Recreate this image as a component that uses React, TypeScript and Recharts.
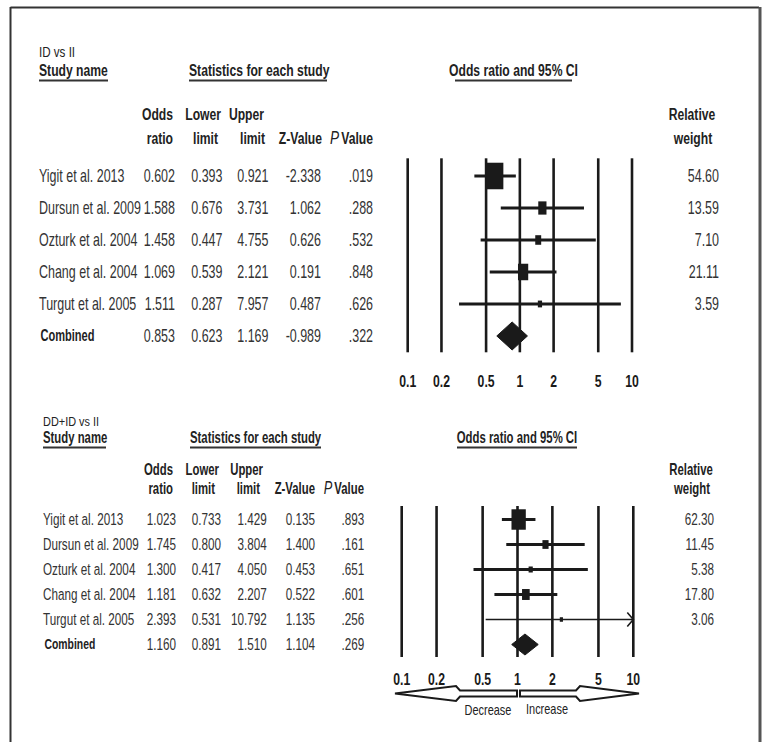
import React from "react";
import { ScatterChart, Scatter, XAxis, YAxis, ReferenceLine } from "recharts";

// ---------- data ----------
const studyNames = [
  "Yigit et al. 2013",
  "Dursun et al. 2009",
  "Ozturk et al. 2004",
  "Chang et al. 2004",
  "Turgut et al. 2005",
  "Combined",
];
const axisTicks = [0.1, 0.2, 0.5, 1, 2, 5, 10];

const p1Title = "ID vs II";
const p1Odds = [0.602, 1.588, 1.458, 1.069, 1.511, 0.853];
const p1Lower = [0.393, 0.676, 0.447, 0.539, 0.287, 0.623];
const p1Upper = [0.921, 3.731, 4.755, 2.121, 7.957, 1.169];
const p1Z = [-2.338, 1.062, 0.626, 0.191, 0.487, -0.989];
const p1P = [0.019, 0.288, 0.532, 0.848, 0.626, 0.322];
const p1Weight = [54.6, 13.59, 7.1, 21.11, 3.59];

const p2Title = "DD+ID vs II";
const p2Odds = [1.023, 1.745, 1.3, 1.181, 2.393, 1.16];
const p2Lower = [0.733, 0.8, 0.417, 0.632, 0.531, 0.891];
const p2Upper = [1.429, 3.804, 4.05, 2.207, 10.792, 1.51];
const p2Z = [0.135, 1.4, 0.453, 0.522, 1.135, 1.104];
const p2P = [0.893, 0.161, 0.651, 0.601, 0.256, 0.269];
const p2Weight = [62.3, 11.45, 5.38, 17.8, 3.06];

// ---------- style ----------
const FONT = "'Liberation Sans', Arial, sans-serif";
const INK = "#1a1a1a";
const TXT = "#333";
const AXIS_MIN = 0.1;
const AXIS_MAX = 10;

const fmt3 = (v: number) => v.toFixed(3);
const fmtP = (v: number) => v.toFixed(3).replace(/^0/, "");
const fmtW = (v: number) => v.toFixed(2);

type TProps = {
  x: number;
  y: number;
  anchor?: "start" | "middle" | "end";
  size?: number;
  bold?: boolean;
  fill?: string;
  sx?: number;
  children: React.ReactNode;
};
const T = ({ x, y, anchor = "start", size = 16, bold = false, fill = TXT, sx = 0.72, children }: TProps) => (
  <text
    transform={`translate(${x},${y}) scale(${sx},1)`}
    textAnchor={anchor}
    fontFamily={FONT}
    fontSize={size}
    fontWeight={bold ? "bold" : "normal"}
    fill={fill}
  >
    {children}
  </text>
);

const AxisTick = (props: any) => {
  const { x, y, payload } = props;
  return (
    <text
      transform={`translate(${x},${y}) scale(0.72,1)`}
      textAnchor="middle"
      dy="0.71em"
      fontFamily={FONT}
      fontSize={17}
      fontWeight="bold"
      fill={INK}
    >
      {String(payload.value)}
    </text>
  );
};

type PanelLayout = {
  title: string;
  titleY: number;
  titleSize: number;
  titleSx: number;
  headY: number;
  ulY: number;
  headSize: number;
  headSx: number;
  nameX: number;
  statsX: number;
  statsUl: [number, number];
  nameUl: [number, number];
  orCenter: number;
  orUl: [number, number];
  h1Y: number;
  h2Y: number;
  colEnds: number[];
  headEnds: { odds: number; lower: [number, number]; upper: [number, number]; z: number; p: number };
  relCenter: number;
  weightEnd: number;
  rowTop: number;
  rowStep: number;
  rowSize: number;
  rowSx: number;
};

const TablePanel = ({
  L,
  odds,
  lower,
  upper,
  z,
  p,
  weight,
}: {
  L: PanelLayout;
  odds: number[];
  lower: number[];
  upper: number[];
  z: number[];
  p: number[];
  weight: number[];
}) => {
  const hs = L.headSize;
  const hx = L.headSx;
  const rs = L.rowSize;
  const rx = L.rowSx;
  return (
    <g>
      <T x={L.nameX} y={L.titleY} size={L.titleSize} fill="#222" sx={L.titleSx}>{L.title}</T>
      <T x={L.nameX} y={L.headY} size={hs} sx={hx} bold fill="#222">Study name</T>
      <line x1={L.nameUl[0]} x2={L.nameUl[1]} y1={L.ulY} y2={L.ulY} stroke="#333" strokeWidth={2} />
      <T x={L.statsX} y={L.headY} size={hs} sx={hx} bold fill="#222">Statistics for each study</T>
      <line x1={L.statsUl[0]} x2={L.statsUl[1]} y1={L.ulY} y2={L.ulY} stroke="#333" strokeWidth={2} />
      <T x={L.orCenter} y={L.headY} anchor="middle" size={hs} sx={hx} bold fill="#222">Odds ratio and 95% CI</T>
      <line x1={L.orUl[0]} x2={L.orUl[1]} y1={L.ulY} y2={L.ulY} stroke="#333" strokeWidth={2} />

      <T x={L.headEnds.odds} y={L.h1Y} anchor="end" size={hs} sx={hx} bold fill="#222">Odds</T>
      <T x={L.headEnds.odds} y={L.h2Y} anchor="end" size={hs} sx={hx} bold fill="#222">ratio</T>
      <T x={L.headEnds.lower[0]} y={L.h1Y} anchor="end" size={hs} sx={hx} bold fill="#222">Lower</T>
      <T x={L.headEnds.lower[1]} y={L.h2Y} anchor="end" size={hs} sx={hx} bold fill="#222">limit</T>
      <T x={L.headEnds.upper[0]} y={L.h1Y} anchor="end" size={hs} sx={hx} bold fill="#222">Upper</T>
      <T x={L.headEnds.upper[1]} y={L.h2Y} anchor="end" size={hs} sx={hx} bold fill="#222">limit</T>
      <T x={L.headEnds.z} y={L.h2Y} anchor="end" size={hs} sx={hx} bold fill="#222">Z-Value</T>
      <text
        transform={`translate(${L.headEnds.p},${L.h2Y}) scale(${hx},1)`}
        textAnchor="end"
        fontFamily={FONT}
        fontSize={hs}
        fontWeight="bold"
        fill="#222"
      >
        <tspan fontStyle="italic" fontWeight="normal" fontSize={hs + 2}>
          P
        </tspan>
        <tspan dx={3}>Value</tspan>
      </text>
      <T x={L.relCenter} y={L.h1Y} anchor="middle" size={hs} sx={hx} bold fill="#222">Relative</T>
      <T x={L.relCenter + 1} y={L.h2Y} anchor="middle" size={hs} sx={hx} bold fill="#222">weight</T>

      {studyNames.map((name, i) => {
        const y = L.rowTop + i * L.rowStep + rs * 0.36;
        const isComb = i === studyNames.length - 1;
        return (
          <g key={name}>
            {isComb ? (
              <T x={L.nameX + 1.5} y={y - 1} size={rs - 1} bold fill="#222" sx={0.67}>{name}</T>
            ) : (
              <T x={L.nameX} y={y} size={rs} sx={rx}>{name}</T>
            )}
            <T x={L.colEnds[0]} y={y} anchor="end" size={rs} sx={rx}>{fmt3(odds[i])}</T>
            <T x={L.colEnds[1]} y={y} anchor="end" size={rs} sx={rx}>{fmt3(lower[i])}</T>
            <T x={L.colEnds[2]} y={y} anchor="end" size={rs} sx={rx}>{fmt3(upper[i])}</T>
            <T x={L.colEnds[3]} y={y} anchor="end" size={rs} sx={rx}>{fmt3(z[i])}</T>
            <T x={L.colEnds[4]} y={y} anchor="end" size={rs} sx={rx}>{fmtP(p[i])}</T>
            {i < weight.length ? (
              <T x={L.weightEnd} y={y} anchor="end" size={rs} sx={rx}>{fmtW(weight[i])}</T>
            ) : null}
          </g>
        );
      })}
    </g>
  );
};

type ForestProps = {
  odds: number[];
  lower: number[];
  upper: number[];
  weight: number[];
  left: number;
  top: number;
  width: number;
  height: number;
  margin: { top: number; right: number; bottom: number; left: number };
  yDomain: [number, number];
  tickMargin: number;
  boxScale: number;
  boxAspect: number;
  diamondHalf: number;
  ciWidths: number[];
};

const ForestChart = (P: ForestProps) => {
  const n = P.weight.length;
  const data = P.odds.slice(0, n).map((or, i) => ({ or, row: i, w: P.weight[i] }));
  const comb = P.odds.length - 1;
  return (
    <div style={{ position: "absolute", left: P.left, top: P.top }}>
      <ScatterChart width={P.width} height={P.height} margin={P.margin}>
        <XAxis
          type="number"
          dataKey="or"
          scale="log"
          domain={[AXIS_MIN, AXIS_MAX]}
          allowDataOverflow
          ticks={axisTicks}
          interval={0}
          tickLine={false}
          axisLine={false}
          tickSize={0}
          tickMargin={P.tickMargin}
          height={30}
          tick={<AxisTick />}
        />
        <YAxis type="number" dataKey="row" domain={P.yDomain} reversed hide allowDataOverflow />
        {axisTicks.map((t) => (
          <ReferenceLine key={t} x={t} stroke={INK} strokeWidth={2.6} ifOverflow="visible" />
        ))}
        {data.map((d, i) => {
          const hi = Math.min(P.upper[i], AXIS_MAX);
          const clipped = P.upper[i] > AXIS_MAX;
          return (
            <ReferenceLine
              key={"ci" + i}
              segment={[
                { x: P.lower[i], y: i },
                { x: hi, y: i },
              ]}
              ifOverflow="visible"
              stroke={INK}
              strokeWidth={P.ciWidths[i]}
              shape={(sp: any) => (
                <g>
                  <line x1={sp.x1} y1={sp.y1} x2={sp.x2} y2={sp.y2} stroke={INK} strokeWidth={P.ciWidths[i]} />
                  {clipped ? (
                    <polyline
                      points={`${sp.x2 - 6},${sp.y2 - 7} ${sp.x2},${sp.y2} ${sp.x2 - 6},${sp.y2 + 7}`}
                      fill="none"
                      stroke={INK}
                      strokeWidth={1.6}
                    />
                  ) : null}
                </g>
              )}
            />
          );
        })}
        <ReferenceLine
          segment={[
            { x: P.lower[comb], y: comb },
            { x: P.upper[comb], y: comb },
          ]}
          ifOverflow="visible"
          shape={(sp: any) => {
            const mx = (sp.x1 + sp.x2) / 2;
            const y = sp.y1;
            const h = P.diamondHalf;
            return (
              <polygon
                points={`${sp.x1},${y} ${mx},${y - h} ${sp.x2},${y} ${mx},${y + h}`}
                fill={INK}
                stroke={INK}
                strokeWidth={1}
              />
            );
          }}
        />
        <Scatter
          data={data}
          isAnimationActive={false}
          shape={(sp: any) => {
            const area = sp.payload.w * P.boxScale;
            const bw = Math.sqrt(area * P.boxAspect);
            const bh = area / bw;
            return <rect x={sp.cx - bw / 2} y={sp.cy - bh / 2} width={bw} height={bh} fill={INK} />;
          }}
        />
      </ScatterChart>
    </div>
  );
};

const L1: PanelLayout = {
  title: p1Title,
  titleY: 57,
  titleSize: 14.5,
  titleSx: 0.8,
  headY: 76,
  ulY: 80.5,
  headSize: 17,
  headSx: 0.715,
  nameX: 39,
  statsX: 189,
  statsUl: [189, 327],
  nameUl: [39, 108],
  orCenter: 513.5,
  orUl: [455, 572],
  h1Y: 120,
  h2Y: 144,
  colEnds: [175, 222.5, 268.5, 321, 373],
  headEnds: { odds: 173, lower: [221, 218], upper: [264, 265], z: 322, p: 373 },
  relCenter: 692,
  weightEnd: 719,
  rowTop: 176,
  rowStep: 32,
  rowSize: 17.5,
  rowSx: 0.713,
};

const L2: PanelLayout = {
  title: p2Title,
  titleY: 425.5,
  titleSize: 13,
  titleSx: 0.84,
  headY: 443,
  ulY: 447.5,
  headSize: 16,
  headSx: 0.71,
  nameX: 43,
  statsX: 190,
  statsUl: [190, 321],
  nameUl: [43, 106],
  orCenter: 517,
  orUl: [457, 577],
  h1Y: 475,
  h2Y: 494,
  colEnds: [176, 221, 266.7, 315, 364.3],
  headEnds: { odds: 173, lower: [219, 215], upper: [263, 260], z: 315, p: 364 },
  relCenter: 691,
  weightEnd: 714,
  rowTop: 519.5,
  rowStep: 25,
  rowSize: 16.5,
  rowSx: 0.71,
};

const Arrows = () => (
  <g>
    <polygon
      points="395,693.5 456,686 460,690.5 517,690.5 517,696.5 460,696.5 456,701"
      fill="#fff"
      stroke={INK}
      strokeWidth={2}
      strokeLinejoin="miter"
    />
    <polygon
      points="639,693.5 580,686 576,690.5 520,690.5 520,696.5 576,696.5 580,701"
      fill="#fff"
      stroke={INK}
      strokeWidth={2}
      strokeLinejoin="miter"
    />
    <T x={488} y={715} anchor="middle" size={15} sx={0.73} fill="#222">Decrease</T>
    <T x={547} y={714} anchor="middle" size={15} sx={0.73} fill="#222">Increase</T>
  </g>
);

export default function App() {
  return (
    <div style={{ position: "absolute", left: 0, top: 0, width: 767, height: 742, background: "#fff", overflow: "hidden" }}>
      <svg width={767} height={742} style={{ position: "absolute", left: 0, top: 0 }}>
        <line x1={10.5} y1={7.5} x2={759} y2={7.5} stroke="#333" strokeWidth={2} />
        <line x1={10.5} y1={7} x2={10.5} y2={742} stroke="#333" strokeWidth={2} />
        <line x1={760} y1={7} x2={760} y2={742} stroke="#555" strokeWidth={3} />
        <TablePanel L={L1} odds={p1Odds} lower={p1Lower} upper={p1Upper} z={p1Z} p={p1P} weight={p1Weight} />
        <TablePanel L={L2} odds={p2Odds} lower={p2Lower} upper={p2Upper} z={p2Z} p={p2P} weight={p2Weight} />
        <Arrows />
      </svg>
      <ForestChart
        odds={p1Odds}
        lower={p1Lower}
        upper={p1Upper}
        weight={p1Weight}
        left={380}
        top={140}
        width={300}
        height={270}
        margin={{ top: 18.3, right: 48, bottom: 27.7, left: 27.7 }}
        yDomain={[-0.553, 5.51]}
        tickMargin={23}
        boxScale={8}
        boxAspect={0.62}
        diamondHalf={14}
        ciWidths={[3, 3, 3, 3, 3]}
      />
      <ForestChart
        odds={p2Odds}
        lower={p2Lower}
        upper={p2Upper}
        weight={p2Weight}
        left={380}
        top={490}
        width={300}
        height={220}
        margin={{ top: 16, right: 46.7, bottom: 23, left: 21.7 }}
        yDomain={[-0.54, 5.5]}
        tickMargin={16}
        boxScale={4.7}
        boxAspect={0.7}
        diamondHalf={10.5}
        ciWidths={[2.8, 2.8, 2.8, 2.8, 1.7]}
      />
    </div>
  );
}
